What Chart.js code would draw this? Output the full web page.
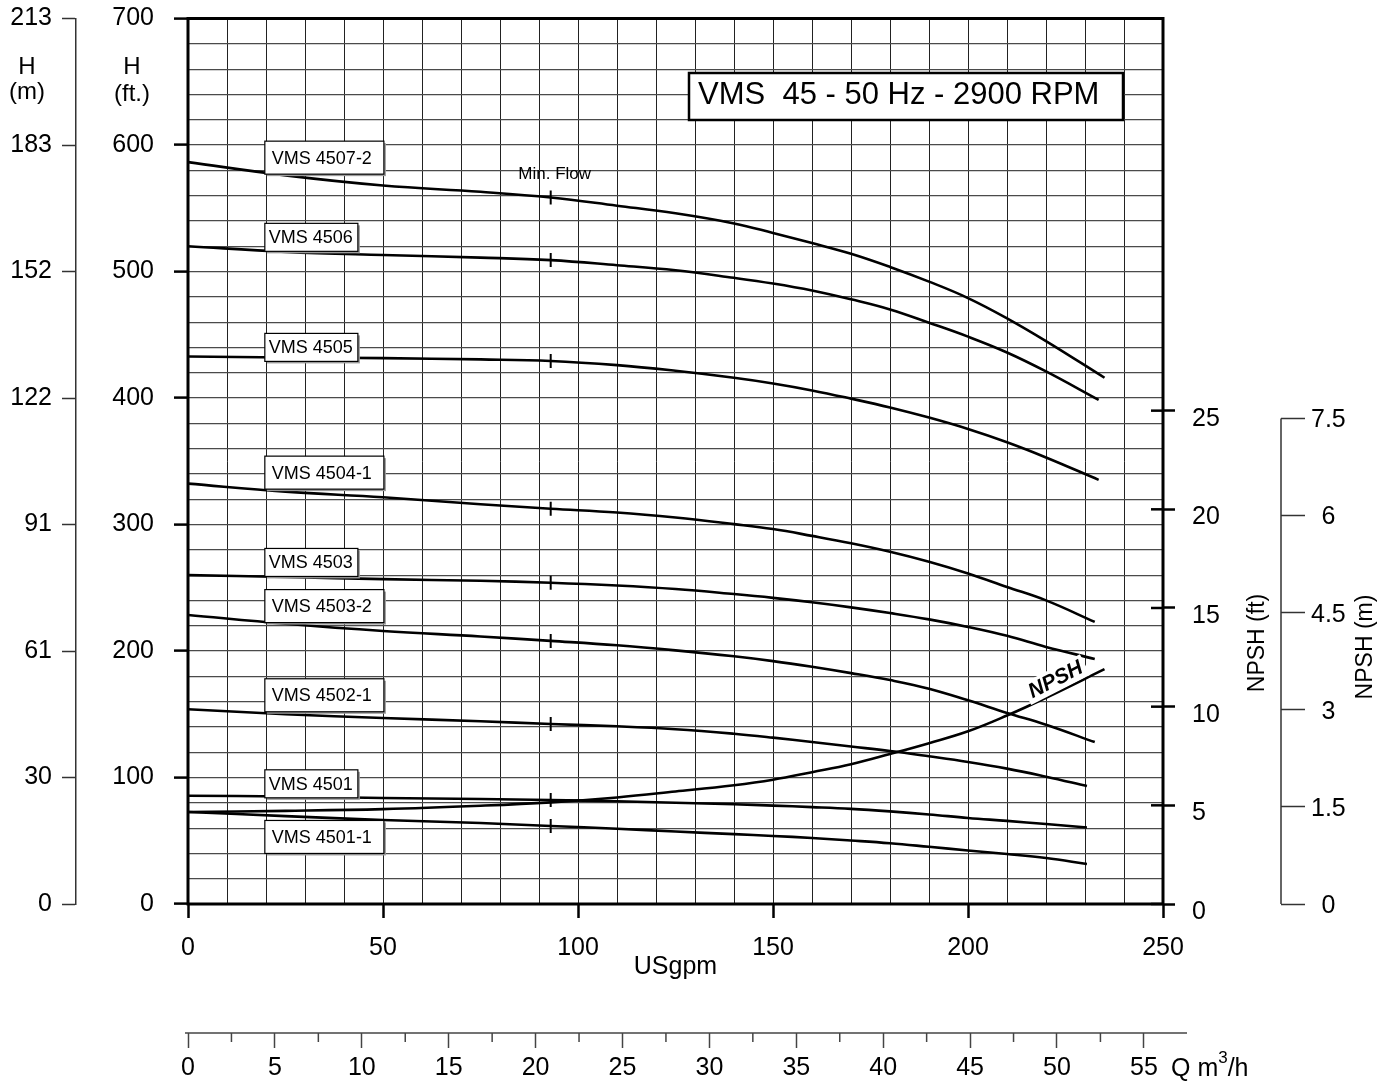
<!DOCTYPE html>
<html>
<head>
<meta charset="utf-8">
<title>VMS 45 - 50 Hz - 2900 RPM</title>
<script src="https://cdn.jsdelivr.net/npm/chart.js@4.4.1/dist/chart.umd.min.js"></script>
<style>
  html, body { margin: 0; padding: 0; background: #fff; }
  #wrap { width: 1389px; height: 1082px; }
</style>
</head>
<body>
<div id="wrap"><canvas id="curveChart" width="1389" height="1082"></canvas></div>
<script>
// Flow points (USgpm) shared by every curve; each curve has its own end point
const flowUsgpm = [0, 25, 50, 75, 93, 110, 125, 140, 150, 160, 170, 180, 190, 200, 210, 220];

const curveNames = ['VMS 4507-2', 'VMS 4506', 'VMS 4505', 'VMS 4504-1', 'VMS 4503',
                    'VMS 4503-2', 'VMS 4502-1', 'VMS 4501', 'VMS 4501-1'];

// Head (ft) read at flowUsgpm
const head4507_2 = [586.5, 576, 568, 563, 558.5, 552, 546, 538, 530.5, 522.5, 514, 503.6, 492, 479, 463, 445];
const head4506   = [520, 515.5, 513, 511, 509, 505, 501, 495, 490.5, 485, 478, 470, 459.5, 448.5, 436, 421];
const head4505   = [432.8, 432, 431.5, 430.5, 429.3, 426, 421.5, 416, 411.5, 406, 399.5, 392.5, 384.5, 375.5, 365, 353];
const head4504_1 = [332.3, 326, 321.5, 316, 312.5, 309.5, 305.5, 300.3, 296.4, 291, 285.2, 278.5, 270.6, 261.3, 250.6, 240];
const head4503   = [260, 258.5, 256.8, 255.5, 254, 251.8, 249, 245, 242, 238.5, 234.5, 230, 225, 219, 212, 203.2];
const head4503_2 = [228.5, 221.5, 215.8, 211.5, 208, 204.5, 200.5, 195.8, 192, 187.5, 182.5, 177, 170.2, 161, 151, 141.7];
const head4502_1 = [154, 150, 147, 144.5, 142.3, 140.5, 138.2, 134.6, 131.5, 128, 124.5, 121, 116.8, 112.3, 107, 100.6];
const head4501   = [85.6, 85, 83.8, 83, 82.2, 81.2, 80, 78.8, 77.8, 76.6, 75.2, 73.2, 70.8, 68, 65.7, 63.2];
const head4501_1 = [72.7, 69.5, 66.4, 64, 61.7, 59.5, 57.3, 55.2, 53.8, 52.2, 50.2, 48, 45.2, 42.3, 39.5, 36.3];
const curveHeads = [head4507_2, head4506, head4505, head4504_1, head4503, head4503_2, head4502_1, head4501, head4501_1];

const endFlow = [235, 233.5, 233.5, 232.5, 232.5, 232.5, 230.5, 230.5, 230.5];
const endHead = [416, 398.5, 335.3, 223, 193.7, 128, 93.3, 60.5, 31.6];

// NPSH required (ft) read at flowUsgpm, plus end point
const npshFt = [4.66, 4.72, 4.81, 4.98, 5.15, 5.4, 5.7, 6.02, 6.3, 6.68, 7.08, 7.6, 8.15, 8.75, 9.55, 10.45];
const npshEnd = [235, 11.9];

const minFlowUsgpm = 93;

// Tick labels
const gpmTicks = [0, 50, 100, 150, 200, 250];
const ftTicks = [0, 100, 200, 300, 400, 500, 600, 700];
const metreTickLabels = ['0', '30', '61', '91', '122', '152', '183', '213'];
const npshFtTicks = [0, 5, 10, 15, 20, 25];
const npshMTicks = [0, 1.5, 3, 4.5, 6, 7.5];
const m3hTicks = [0, 5, 10, 15, 20, 25, 30, 35, 40, 45, 50, 55];

// 25 ft of NPSH sits at the 390 ft head line
const npshFtMax = 700 * 25 / 390;
const m3hMax = 56.1;

const FONT = "'Liberation Sans', Arial, Helvetica, sans-serif";
Chart.defaults.font.family = FONT;
Chart.defaults.font.size = 25;
Chart.defaults.color = '#000';

const hidden = 'rgba(0,0,0,0)';

const curveSets = curveNames.map((name, i) => ({
    label: name,
    data: flowUsgpm.map((q, j) => ({ x: q, y: curveHeads[i][j] }))
        .concat([{ x: endFlow[i], y: endHead[i] }]),
    borderColor: '#000',
    borderWidth: 2.6,
    pointRadius: 0,
    tension: 0.4,
    yAxisID: 'y'
}));

const minIdx = flowUsgpm.indexOf(minFlowUsgpm);

const npshSet = {
    label: 'NPSH',
    data: flowUsgpm.map((q, j) => ({ x: q, y: npshFt[j] })).concat([{ x: npshEnd[0], y: npshEnd[1] }]),
    borderColor: '#000',
    borderWidth: 2.6,
    pointRadius: 0,
    tension: 0.4,
    yAxisID: 'yN'
};

const minFlowSet = {
    label: 'Min. Flow',
    data: curveHeads.map(h => ({ x: minFlowUsgpm, y: h[minIdx] })),
    showLine: false,
    pointStyle: 'line',
    pointRotation: 90,
    pointRadius: 7,
    pointBorderWidth: 2,
    pointBorderColor: '#000',
    yAxisID: 'y'
};

// curve label boxes: left edge flow and centre head
const labelFlow = 19.7;
const labelHeads = [590, 527, 440, 341, 270, 235.5, 165, 95, 53];

// keep tick-label padding from pushing the plot area around
const fixWidth = w => s => { s.width = w; s.paddingTop = 0; s.paddingBottom = 0; };
const fixHeight = h => s => { s.height = h; s.paddingLeft = 0; s.paddingRight = 0; };

const decorations = {
    id: 'decorations',
    afterDatasetsDraw(chart) {
        const { ctx, chartArea: a, scales } = chart;
        const x = scales.x, y = scales.y, yN = scales.yN, yNm = scales.yNm, x2 = scales.x2;
        ctx.save();

        // plot frame
        ctx.strokeStyle = '#000';
        ctx.lineWidth = 3;
        ctx.strokeRect(a.left, a.top, a.right - a.left, a.bottom - a.top);

        // NPSH ft ticks reach into the plot
        ctx.lineWidth = 2.5;
        npshFtTicks.forEach(v => {
            const py = yN.getPixelForValue(v);
            ctx.beginPath();
            ctx.moveTo(a.right - 12, py);
            ctx.lineTo(a.right, py);
            ctx.stroke();
        });

        // NPSH m axis line (only over its own range)
        ctx.strokeStyle = '#333';
        ctx.lineWidth = 1.5;
        ctx.beginPath();
        ctx.moveTo(yNm.left, yNm.getPixelForValue(npshMTicks[npshMTicks.length - 1]));
        ctx.lineTo(yNm.left, yNm.getPixelForValue(0));
        ctx.stroke();

        // m3/h axis line and minor ticks
        ctx.strokeStyle = '#444';
        ctx.beginPath();
        ctx.moveTo(x2.left - 3, x2.top);
        ctx.lineTo(x2.right + 24, x2.top);
        ctx.stroke();
        m3hTicks.forEach(v => {
            const px = x2.getPixelForValue(v + 2.5);
            if (px > x2.right) return;
            ctx.beginPath();
            ctx.moveTo(px, x2.top);
            ctx.lineTo(px, x2.top + 9);
            ctx.stroke();
        });

        const put = (str, px, py, size, align, base, style) => {
            ctx.font = (style || '') + ' ' + size + 'px ' + FONT;
            ctx.textAlign = align || 'center';
            ctx.textBaseline = base || 'middle';
            ctx.fillStyle = '#000';
            ctx.fillText(str, px, py);
        };

        // axis captions
        put('H', 27, 67, 24);
        put('(m)', 27, 92, 24);
        put('H', 132, 67, 24);
        put('(ft.)', 132, 94, 24);

        ctx.save();
        ctx.translate(1258, 643);
        ctx.rotate(-Math.PI / 2);
        put('NPSH (ft)', 0, 0, 23);
        ctx.restore();
        ctx.save();
        ctx.translate(1366, 647);
        ctx.rotate(-Math.PI / 2);
        put('NPSH (m)', 0, 0, 23);
        ctx.restore();

        put('Q m', 1171, 1076, 25, 'left', 'alphabetic');
        ctx.font = '25px ' + FONT;
        const qw = ctx.measureText('Q m').width;
        put('3', 1171 + qw, 1063, 17, 'left', 'alphabetic');
        ctx.font = '17px ' + FONT;
        const tw = ctx.measureText('3').width;
        put('/h', 1171 + qw + tw, 1076, 25, 'left', 'alphabetic');

        // title box
        ctx.fillStyle = '#fff';
        ctx.fillRect(689, 73, 434, 47);
        ctx.strokeStyle = '#000';
        ctx.lineWidth = 2.5;
        ctx.strokeRect(689, 73, 434, 47);
        put('VMS  45 - 50 Hz - 2900 RPM', 698, 104, 31, 'left', 'alphabetic');

        // min flow caption
        put('Min. Flow', x.getPixelForValue(minFlowUsgpm) + 4, y.getPixelForValue(577), 17);

        // curve labels
        ctx.font = '18px ' + FONT;
        curveNames.forEach((name, i) => {
            const wide = name.indexOf('-') > 0;
            const w = ctx.measureText(name).width + (wide ? 19 : 9);
            const h = wide ? 33 : 28;
            const left = x.getPixelForValue(labelFlow);
            const top = y.getPixelForValue(labelHeads[i]) - h / 2;
            ctx.fillStyle = '#9a9a9a';
            ctx.fillRect(left + 2, top + 2, w, h);
            ctx.fillStyle = '#fff';
            ctx.fillRect(left, top, w, h);
            ctx.strokeStyle = '#000';
            ctx.lineWidth = 1.2;
            ctx.strokeRect(left, top, w, h);
            put(name, left + (wide ? 7 : 4), top + h / 2 + 1, 18, 'left');
            ctx.font = '18px ' + FONT;
        });

        // NPSH curve label
        ctx.save();
        ctx.translate(x.getPixelForValue(222.5), yN.getPixelForValue(11.35));
        ctx.rotate(-27 * Math.PI / 180);
        ctx.font = 'italic bold 21px ' + FONT;
        const nw = ctx.measureText('NPSH').width;
        ctx.fillStyle = '#fff';
        ctx.fillRect(-nw / 2 - 4, -12, nw + 8, 23);
        put('NPSH', 0, 0, 21, 'center', 'middle', 'italic bold');
        ctx.restore();

        ctx.restore();
    }
};

new Chart(document.getElementById('curveChart'), {
    type: 'line',
    data: { datasets: curveSets.concat([npshSet, minFlowSet]) },
    options: {
        responsive: false,
        maintainAspectRatio: false,
        devicePixelRatio: 1,
        animation: false,
        layout: { padding: { top: 18.5, left: 0, right: 0, bottom: 0 } },
        plugins: { legend: { display: false }, tooltip: { enabled: false } },
        scales: {
            x: {
                type: 'linear', position: 'bottom', weight: 0, min: 0, max: 250,
                ticks: {
                    stepSize: 10, autoSkip: false, maxRotation: 0, padding: 15,
                    callback: v => gpmTicks.includes(v) ? String(v) : ''
                },
                grid: {
                    color: '#222', lineWidth: 1, tickLength: 14, tickWidth: 2.5,
                    tickColor: c => gpmTicks.includes(c.tick.value) ? '#000' : hidden
                },
                border: { display: false },
                title: { display: true, text: 'USgpm', font: { size: 25 }, padding: { top: 0, bottom: 51 } },
                afterFit: fixHeight(129)
            },
            x2: {
                type: 'linear', position: 'bottom', weight: 1, min: 0, max: m3hMax,
                afterBuildTicks: s => { s.ticks = m3hTicks.map(v => ({ value: v })); },
                ticks: { autoSkip: false, maxRotation: 0, padding: 5 },
                grid: { drawOnChartArea: false, tickLength: 15, tickColor: '#444', tickWidth: 1.5 },
                border: { display: false },
                afterFit: fixHeight(49)
            },
            y: {
                type: 'linear', position: 'left', weight: 0, min: 0, max: 700,
                ticks: {
                    stepSize: 20, autoSkip: false, padding: 20,
                    callback: v => ftTicks.includes(v) ? String(v) : ''
                },
                grid: {
                    color: '#4a4a4a', lineWidth: 1.2, tickLength: 14, tickWidth: 2.5,
                    tickColor: c => ftTicks.includes(c.tick.value) ? '#000' : hidden
                },
                border: { display: false },
                afterFit: fixWidth(112)
            },
            yM: {
                type: 'linear', position: 'left', weight: 1, min: 0, max: 700,
                afterBuildTicks: s => { s.ticks = ftTicks.map(v => ({ value: v })); },
                ticks: { padding: 10, callback: (v, i) => metreTickLabels[i] },
                grid: { drawOnChartArea: false, tickLength: 14, tickColor: '#333', tickWidth: 1.5 },
                border: { display: true, color: '#333', width: 1.5 },
                afterFit: fixWidth(76)
            },
            yN: {
                type: 'linear', position: 'right', weight: 0, min: 0, max: npshFtMax,
                afterBuildTicks: s => { s.ticks = npshFtTicks.map(v => ({ value: v })); },
                ticks: { padding: 17, labelOffset: 8 },
                grid: { drawOnChartArea: false, tickLength: 12, tickWidth: 2.5, tickColor: '#000' },
                border: { display: false },
                afterFit: fixWidth(118)
            },
            yNm: {
                type: 'linear', position: 'right', weight: 1, min: 0, max: npshFtMax * 0.3048,
                afterBuildTicks: s => { s.ticks = npshMTicks.map(v => ({ value: v })); },
                ticks: { padding: 6, crossAlign: 'center', labelOffset: 2, callback: v => String(v) },
                grid: { drawOnChartArea: false, tickLength: 24, tickWidth: 1.5, tickColor: '#333' },
                border: { display: false },
                afterFit: fixWidth(108)
            }
        }
    },
    plugins: [decorations]
});
</script>
</body>
</html>
